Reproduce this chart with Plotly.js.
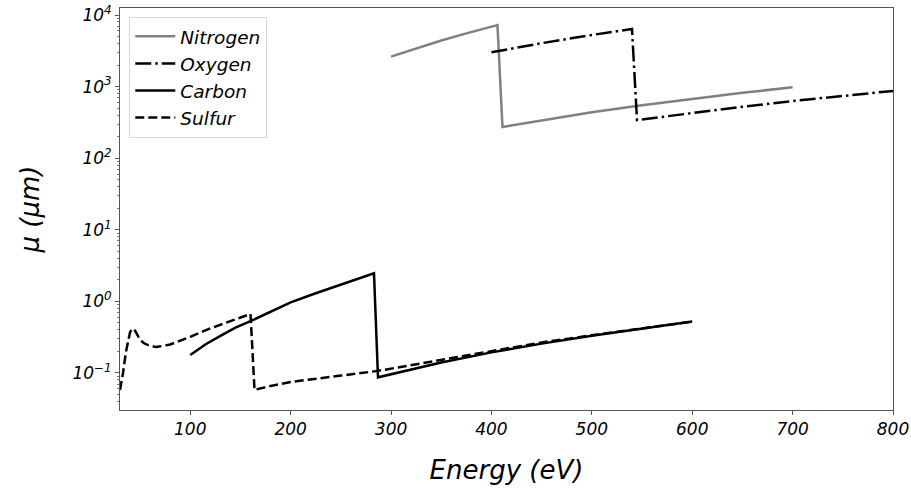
<!DOCTYPE html>
<html>
<head>
<meta charset="utf-8">
<script src="https://cdn.plot.ly/plotly-3.0.1.min.js"></script>
<style>html,body{margin:0;padding:0;background:#fff;}#chart{width:911px;height:492px;}</style>
</head>
<body>
<div id="chart"></div>
<script>
// Nitrogen
const nitrogenE = [300, 325, 350, 375, 400, 406, 411, 450, 500, 550, 600, 650, 700];
const nitrogenMu = [2620, 3430, 4400, 5540, 6890, 7250, 273, 339, 437, 549, 677, 820, 980];
// Oxygen
const oxygenE = [400, 450, 500, 540, 545, 600, 650, 700, 750, 800];
const oxygenMu = [3010, 4040, 5260, 6370, 341, 430, 523, 628, 744, 871];
// Carbon
const carbonE = [100, 115, 130, 145, 160, 175, 200, 225, 250, 265, 283, 287, 350, 400, 450, 500, 550, 600];
const carbonMu = [0.178, 0.25, 0.33, 0.43, 0.53, 0.66, 0.97, 1.30, 1.70, 2.02, 2.47, 0.087, 0.140, 0.194, 0.257, 0.331, 0.417, 0.525];
// Sulfur
const sulfurE = [30, 33, 36, 38, 40, 42, 44, 46, 48, 50, 54, 58, 66, 80, 100, 120, 140, 158, 160, 164, 180, 200, 220, 250, 287, 350, 400, 450, 500, 550, 600];
const sulfurMu = [0.058, 0.10, 0.20, 0.29, 0.37, 0.41, 0.41, 0.37, 0.32, 0.29, 0.26, 0.245, 0.23, 0.25, 0.32, 0.42, 0.53, 0.65, 0.667, 0.058, 0.066, 0.075, 0.082, 0.092, 0.107, 0.152, 0.205, 0.267, 0.336, 0.42, 0.52];

const yTickVals = [0.1, 1, 10, 100, 1000, 10000];
const yTickText = ['10<sup>\u22121</sup>', '10<sup>0</sup>', '10<sup>1</sup>', '10<sup>2</sup>', '10<sup>3</sup>', '10<sup>4</sup>'];
const xTickVals = [100, 200, 300, 400, 500, 600, 700, 800];

const minorY = [];
for (let d = -2; d <= 4; d++) for (let m = 2; m <= 9; m++) minorY.push(m * Math.pow(10, d));

const FONT = 'DejaVu Sans, sans-serif';
const lw = 2.5;
const traces = [
  {x: nitrogenE, y: nitrogenMu, name: 'Nitrogen', mode: 'lines', line: {color: '#808080', width: lw}},
  {x: oxygenE, y: oxygenMu, name: 'Oxygen', mode: 'lines', line: {color: '#000', width: lw, dash: '16px,4px,2.5px,4px'}},
  {x: carbonE, y: carbonMu, name: 'Carbon', mode: 'lines', line: {color: '#000', width: lw}},
  {x: sulfurE, y: sulfurMu, name: 'Sulfur', mode: 'lines', line: {color: '#000', width: lw, dash: '9px,4px'}}
];

const layout = {
  width: 911, height: 492,
  margin: {l: 120, r: 18, t: 8, b: 82},
  paper_bgcolor: '#fff', plot_bgcolor: '#fff',
  font: {family: FONT, color: '#000', style: 'italic'},
  showlegend: true,
  legend: {x: 0.012, y: 0.978, xanchor: 'left', yanchor: 'top', itemwidth: 40,
    bgcolor: 'rgba(255,255,255,0.8)', bordercolor: '#d8d8d8', borderwidth: 1,
    font: {family: FONT, size: 18.5, style: 'italic', color: '#000'}},
  xaxis: {
    range: [30, 800], tickvals: xTickVals, ticks: 'outside', ticklen: 4, tickwidth: 1, tickcolor: '#555',
    showgrid: false, zeroline: false, showline: true, linecolor: '#555', linewidth: 1, mirror: true,
    tickfont: {family: FONT, size: 17, style: 'italic', color: '#000'},
    title: {text: 'Energy (eV)', font: {family: FONT, size: 26, style: 'italic', color: '#000'}, standoff: 22}
  },
  yaxis: {
    type: 'log', range: [-1.517, 4.098], tickvals: yTickVals, ticktext: yTickText,
    ticks: 'outside', ticklen: 4, tickwidth: 1, tickcolor: '#555',
    minor: {tickvals: minorY, ticks: 'outside', ticklen: 2, tickwidth: 0.8, tickcolor: '#555', showgrid: false},
    showgrid: false, zeroline: false, showline: true, linecolor: '#555', linewidth: 1, mirror: true,
    tickfont: {family: FONT, size: 17, style: 'italic', color: '#000'},
    title: {text: '\u03bc (\u03bcm)', font: {family: FONT, size: 26, style: 'italic', color: '#000'}, standoff: 25}
  }
};

Plotly.newPlot('chart', traces, layout, {displayModeBar: false, staticPlot: true});
</script>
</body>
</html>
